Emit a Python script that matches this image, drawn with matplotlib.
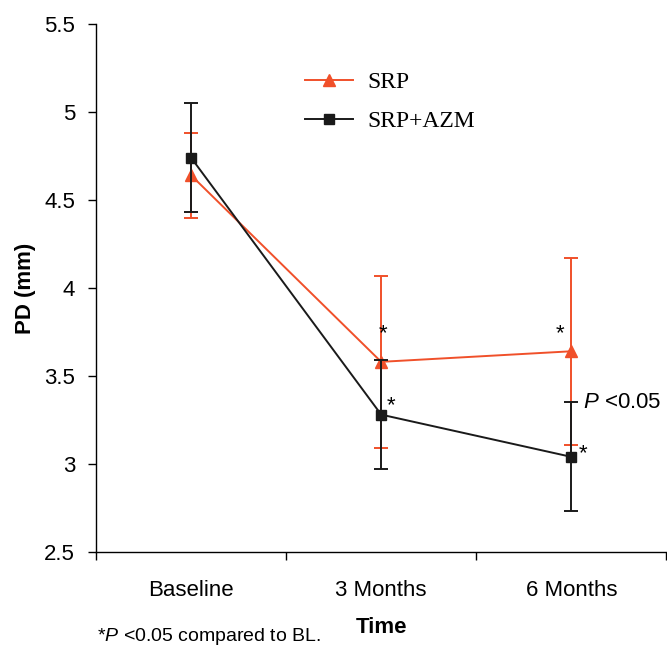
import numpy as np
import matplotlib
matplotlib.use('Agg')
import matplotlib.pyplot as plt
from matplotlib.lines import Line2D

plt.rcParams['font.family'] = ['Liberation Sans', 'DejaVu Sans']
plt.rcParams['mathtext.fontset'] = 'custom'
plt.rcParams['mathtext.rm'] = 'Liberation Sans'
plt.rcParams['mathtext.it'] = 'Liberation Sans:italic'

# data
time_labels = ['Baseline', '3 Months', '6 Months']
srp_mean = [4.64, 3.58, 3.64]
srp_err = [0.24, 0.49, 0.53]
azm_mean = [4.74, 3.28, 3.04]
azm_err = [0.31, 0.31, 0.31]

red = '#f0502a'
blk = '#1a1a1a'

fig = plt.figure(figsize=(6.67, 6.57), dpi=100)
ax = fig.add_axes([0.144, 0.16, 0.855, 0.8035])
x = np.arange(len(time_labels))

ax.errorbar(x, srp_mean, yerr=srp_err, color=red, marker='^', markersize=9,
            linewidth=1.4, elinewidth=1.4, capsize=5, capthick=1.4, zorder=2)
ax.errorbar(x, azm_mean, yerr=azm_err, color=blk, marker='s', markersize=7,
            linewidth=1.4, elinewidth=1.4, capsize=5, capthick=1.4, zorder=3)

ax.set_xlim(-0.5, 2.5)
ax.set_ylim(2.5, 5.5)
ax.set_yticks(np.arange(2.5, 5.51, 0.5))
ax.set_yticklabels(['2.5', '3', '3.5', '4', '4.5', '5', '5.5'])
ax.tick_params(axis='y', direction='out', length=6, width=1, labelsize=16, pad=9)

# boundaries as ticks, names in between
ax.set_xticks([-0.5, 0.5, 1.5, 2.5])
ax.set_xticklabels([])
ax.set_xticks(x, minor=True)
ax.set_xticklabels(time_labels, minor=True)
ax.tick_params(axis='x', which='major', direction='out', length=6, width=1)
ax.tick_params(axis='x', which='minor', length=0, labelsize=16, pad=20)

for s in ['top', 'right']:
    ax.spines[s].set_visible(False)
for s in ['left', 'bottom']:
    ax.spines[s].set_linewidth(1)

ax.set_xlabel('Time', fontsize=16, fontweight='bold', labelpad=12)
ax.set_ylabel('PD (mm)', fontsize=16, fontweight='bold', labelpad=6)

handles = [Line2D([], [], color=red, marker='^', markersize=9, linewidth=1.4),
           Line2D([], [], color=blk, marker='s', markersize=7, linewidth=1.4)]
ax.legend(handles, ['SRP', 'SRP+AZM'], loc='upper left', bbox_to_anchor=(0.33, 0.95),
          frameon=False, prop={'family': 'Liberation Serif', 'size': 17},
          handlelength=2.0, handletextpad=0.6, labelspacing=0.75)

# significance marks
ax.text(1.01, 3.74, '*', fontsize=16, ha='center', va='center')
ax.text(1.05, 3.33, '*', fontsize=16, ha='center', va='center')
ax.text(1.94, 3.74, '*', fontsize=16, ha='center', va='center')
ax.text(2.06, 3.06, '*', fontsize=16, ha='center', va='center')
ax.text(2.06, 3.35, r'$\mathit{P}$ <0.05', fontsize=16, ha='left', va='center')

fig.text(0.145, 0.015, r'*$\mathit{P}$ <0.05 compared to BL.', fontsize=14, ha='left', va='bottom')

fig.savefig('out.png', dpi=100)
